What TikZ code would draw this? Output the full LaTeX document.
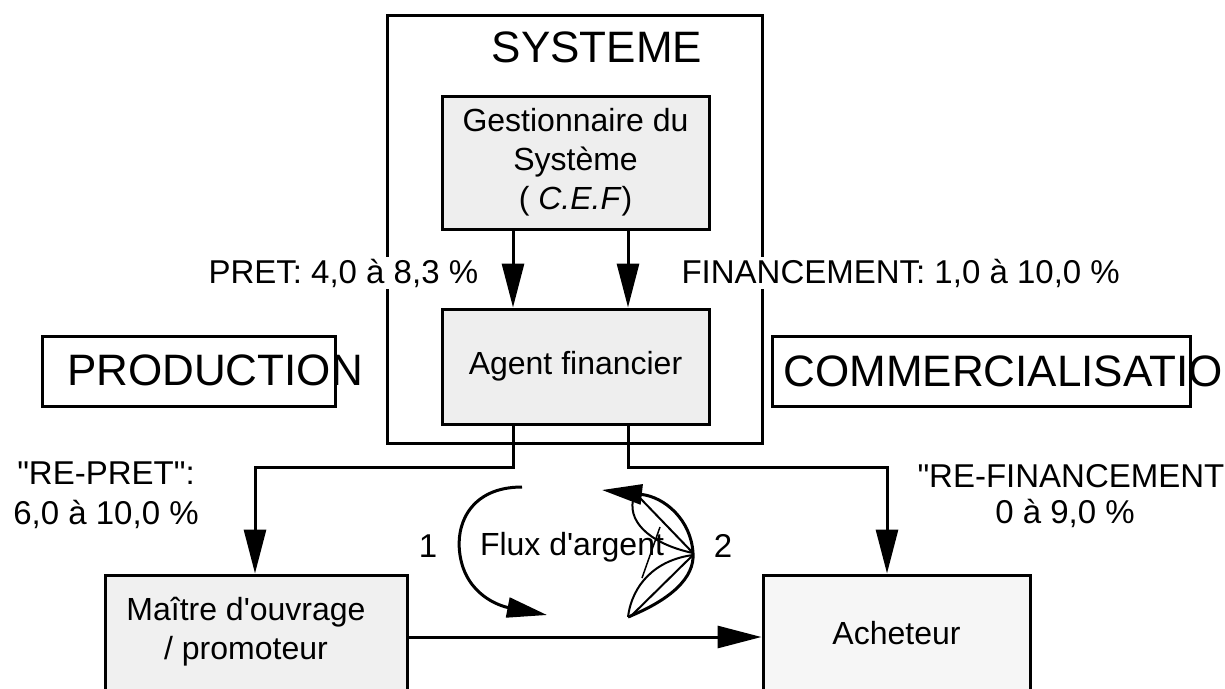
\documentclass[tikz,border=0pt]{standalone}
\usepackage{fontspec}
\setmainfont{Liberation Sans}[Ligatures=TeXOff]
\usetikzlibrary{arrows.meta,calc}
\definecolor{boxgray}{HTML}{EEEEEE}
\definecolor{boxmid}{HTML}{F0F0F0}
\definecolor{boxlight}{HTML}{F6F6F6}
\begin{document}
\begin{tikzpicture}[x=1pt,y=-1pt,
  line width=3pt,
  box/.style={draw,rectangle,inner sep=0pt,line width=3pt},
  big/.style={font=\fontsize{44}{52}\selectfont,inner sep=0pt},
  boxtxt/.style={font=\fontsize{32}{39}\selectfont,align=center},
  txt/.style={font=\fontsize{33}{40}\selectfont,inner sep=0pt},
  lbl/.style={font=\fontsize{33}{40}\selectfont,fill=white,inner sep=2pt},
  arr/.style={-{Triangle[length=44pt,width=22pt]},line width=3pt},
  arrc/.style={-{Triangle[length=40pt,width=20pt]},line width=3pt},
  thin/.style={line width=2pt},
]
\useasboundingbox (0,0) rectangle (1225,688);
\clip (0,0) rectangle (1225,688);

% system frame
\node[box,minimum width=375pt,minimum height=428pt] (sys) at (574.5,229) {};
\node[big] (systitle) at (597,47) {SYSTEME};

% boxes
\node[box,boxtxt,fill=boxgray,minimum width=267pt,minimum height=133pt] (gest) at (575.5,162.5)
  {Gestionnaire du\\ Système\\ ( \textit{C.E.F})};
\node[box,boxtxt,fill=boxgray,minimum width=267pt,minimum height=115pt] (agent) at (575.5,366.5)
  {Agent financier};
\node[box,fill=boxmid,minimum width=302pt,minimum height=117pt] (maitre) at (256,633.5) {};
\node[boxtxt,inner sep=0pt] (maitretxt) at (246,632) {Maître d'ouvrage\\ / promoteur};
\node[box,boxtxt,fill=boxlight,minimum width=267pt,minimum height=117pt] (ach) at (896.5,633.5)
  {Acheteur};

% section boxes
\node[box,minimum width=293pt,minimum height=70pt] (prodbox) at (188.5,371) {};
\node[big] (prod) at (215,370) {PRODUCTION};
\node[box,minimum width=418pt,minimum height=70pt] (combox) at (981,371) {};
\node[big,anchor=west] (com) at (782,371) {COMMERCIALISATION};

% helper coordinates
\coordinate (cL) at (513,0);
\coordinate (cR) at (628,0);
\coordinate (cM) at (255,0);
\coordinate (cA) at (887,0);
\coordinate (bus) at (0,467);
\coordinate (hy) at (0,637);

% connectors
\draw[arr] (cL |- gest.south) -- (cL |- agent.north);
\draw[arr] (cR |- gest.south) -- (cR |- agent.north);
\draw[arr] (cL |- agent.south) -- (cL |- bus) -| (cM |- maitre.north);
\draw[arr] (cR |- agent.south) -- (cR |- bus) -| (cA |- ach.north);
\draw[arr] (maitre.east |- hy) -- (ach.west |- hy);

% labels
\node[lbl,anchor=base west] (pret) at (205,283) {PRET: 4,0 à 8,3 \%};
\node[lbl,anchor=base west] (fin) at (678,283) {FINANCEMENT: 1,0 à 10,0 \%};
\node[txt,align=center] (repret) at (106,495) {"RE-PRET":\\6,0 à 10,0 \%};
\node[txt,anchor=base west] (refin1) at (916,487) {"RE-FINANCEMENT"};
\node[txt,anchor=base] (refin2) at (1065,523) {0 à 9,0 \%};

% money flow
\node[txt,anchor=base] (one) at (428,557) {1};
\node[txt,anchor=base] (two) at (723,557) {2};
\node[font=\fontsize{32}{39}\selectfont,inner sep=0pt,anchor=base] (flux) at (572,555) {Flux d'argent};

\draw[arrc] (522,487) .. controls (470,487) and (455,525) .. (460,555)
  .. controls (466,595) and (500,606) .. (547,615);
\draw[arrc] (628,617) .. controls (670,600) and (695,578) .. (693,553)
  .. controls (691,520) and (665,497) .. (602,490);
\draw[thin] (633,500) .. controls (628,525) and (655,545) .. (693,553);
\draw[thin] (640,498) -- (693,553);
\draw[thin] (628,617) .. controls (632,585) and (655,560) .. (693,555);
\draw[thin] (630,617) -- (693,555);
\draw[line width=1.5pt] (660,527) -- (642,578);
\end{tikzpicture}
\end{document}
